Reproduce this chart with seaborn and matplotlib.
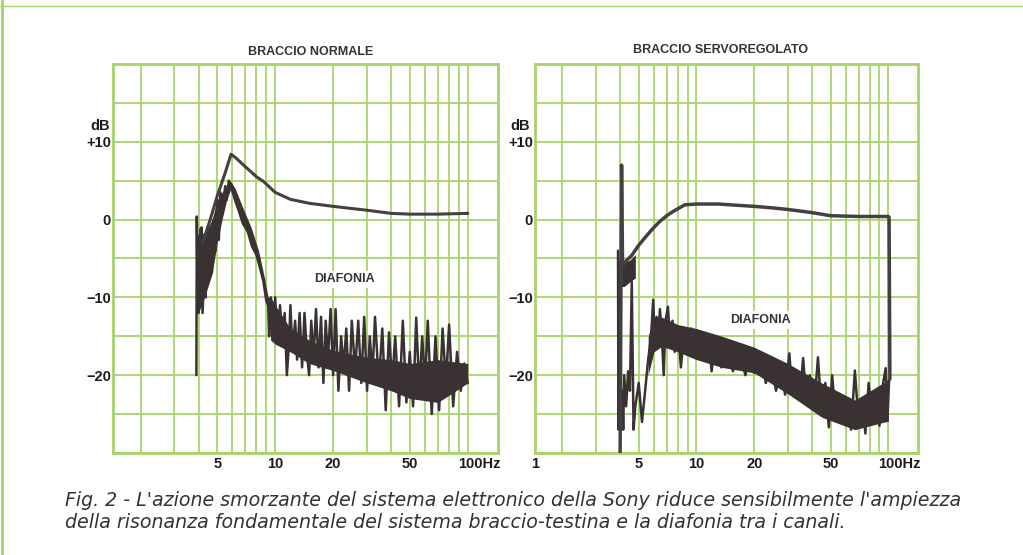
import numpy as np
import pandas as pd
import matplotlib
matplotlib.use('Agg')
import matplotlib.pyplot as plt
import matplotlib.transforms as mtransforms
from matplotlib.lines import Line2D
from matplotlib.ticker import NullFormatter
import seaborn as sns

# --- dati (Hz, dB) ---

# braccio normale: risposta
norm_freq = [4.2, 4.6, 5.0, 5.5, 5.9, 6.2, 7.0, 8.0, 8.7, 10, 12, 15, 20, 30, 40, 50, 70, 100]
norm_db = [-3.0, 0.0, 3.0, 6.0, 8.4, 8.0, 6.8, 5.5, 4.9, 3.5, 2.6, 2.1, 1.7, 1.2, 0.8, 0.7, 0.7, 0.8]

# braccio normale: diafonia (traccia con i picchi)
norm_dia_freq = [3.9, 3.92, 3.95, 4.0, 4.05, 4.1, 4.15, 4.2, 4.3, 4.35, 4.45, 4.5, 4.6, 4.7, 4.8,
                 4.9, 5.0, 5.1, 5.2, 5.35, 5.5, 5.6, 5.75, 5.85, 6.0, 6.2, 6.5, 6.8, 7.2, 7.6,
                 8.0, 8.4, 8.7, 9.0, 9.2, 9.3, 9.5, 9.7, 10, 10.3, 10.6, 10.9, 11.2, 11.5, 11.8,
                 12.0, 12.3, 12.7, 13, 13.4, 13.8, 14.2, 14.6, 15, 15.4, 15.8, 16.3, 16.8, 17.3,
                 17.8, 18.3, 18.8, 19.4, 20, 20.6, 21.3, 22, 22.7, 23.4, 24.2, 25, 26, 27, 28,
                 29, 30, 31, 32, 33, 34.5, 36, 37.5, 39, 40.5, 42, 44, 46, 48, 50, 52, 54, 56,
                 58, 60, 62, 65, 68, 71, 74, 77, 80, 84, 88, 92, 96, 100]
norm_dia_db = [-20, 0.4, -8, -12, -2, -11, -1, -12, -5, -10, -1, -8, -2, -6.8, 0,
               -4, 2.5, -2.6, 3.5, 1.0, 4.3, 2.5, 5.0, 4.5, 3.8, 2.5, 1.0, -0.5, -1.5, -3.5,
               -4.5, -6.5, -8, -10.5, -11, -15, -10, -15.5, -10, -16, -11, -15.5, -12, -20, -16,
               -11, -17, -13, -18, -12, -19, -12, -17, -20, -13, -18, -11.5, -19, -12.5,
               -21, -13, -18, -11.5, -20, -11.5, -22, -15, -19, -14, -22, -13, -19.5, -13, -21,
               -12.5, -22, -15, -20, -12.5, -21, -14, -24.5, -14.5, -21, -15, -24, -13, -23.5, -17, -24, -12.6, -22,
               -15, -21, -13, -25, -15, -24.5, -14, -21, -13.5, -24, -17, -22, -18.5, -21]

# braccio normale: diafonia (fascia centrale)
norm_band_freq = [4.0, 4.3, 4.7, 5.0, 5.3, 5.6, 5.85, 6.2, 6.8, 7.5, 8.2, 8.8, 9.2, 9.5, 10, 12, 15, 20, 30, 40, 50, 70, 100]
norm_band_low = [-12, -10, -7, -3, 0, 2.5, 3.8, 2, -0.5, -3, -6, -9, -12, -15.5, -16, -17, -18.5, -19.4, -21, -22, -23, -23.5, -21]
norm_band_high = [-1, -2, 0, 2.5, 3.5, 4.5, 5.0, 4.0, 1.5, -1, -4, -7.5, -10, -10, -11, -14, -15.5, -16.8, -17.7, -18, -18.5, -18, -18.5]

# braccio servoregolato: risposta
servo_freq = [4.0, 4.07, 4.12, 4.3, 4.6, 5.0, 5.4, 5.9, 6.4, 7.0, 7.5, 8.7, 10, 13, 15, 20, 25, 30, 40, 50, 70, 100, 101, 102]
servo_db = [-30, 7.0, -6.0, -5.3, -4.6, -3.3, -2.3, -1.2, -0.3, 0.5, 1.0, 1.9, 2.0, 2.0, 1.9, 1.7, 1.5, 1.3, 0.9, 0.5, 0.4, 0.4, 0.3, -20.5]

# braccio servoregolato: diafonia (traccia con i picchi)
servo_dia_freq = [3.9, 3.92, 3.96, 4.0, 4.05, 4.1, 4.15, 4.2, 4.3, 4.4, 4.5, 4.6, 4.7, 4.8, 5.0,
                  5.2, 5.4, 5.6, 5.8, 5.95, 6.05, 6.2, 6.3, 6.45, 6.6, 6.75, 6.9, 7.1, 7.3, 7.5,
                  7.7, 8.0, 8.3, 8.6, 9.0, 9.4, 10, 10.5, 11, 11.5, 12, 12.5, 13.5, 14.5, 15.5,
                  16.5, 18, 19, 20, 21.5, 23, 24.5, 26, 27.5, 29, 30.5, 31.5, 33, 34.5, 36, 37.5,
                  39, 41, 43, 45, 47, 49, 51, 53, 55, 58, 61, 64, 67, 70, 73, 76, 79, 82, 86, 90,
                  94, 97, 99, 101]
servo_dia_db = [-4, -27, -8.6, -5.5, -27, -22, -27, -20, -24, -19.5, -22, -8, -27, -24, -21,
                -26, -22, -18, -15, -10.3, -15, -12.5, -16, -11.5, -15, -20, -13, -11.2, -16, -13,
                -17, -14, -19, -14.5, -17, -14, -17.5, -14.5, -18, -15, -19.5, -15.5, -19, -16, -19.5,
                -16.5, -20, -17, -19.7, -17.5, -21, -18.5, -22, -19, -22.5, -17.2, -22, -19.5, -23, -17.8, -23.5,
                -20, -24.5, -17.7, -25, -21, -26.7, -20, -25, -22.5, -26, -23, -27, -19.4, -26, -23, -27.5, -21, -25, -22, -26.5,
                -21, -19.1, -25.9, -20.6]

# braccio servoregolato: diafonia (fascia centrale)
servo_band_freq = [5.6, 6.0, 6.5, 7, 8, 10, 13.6, 20, 30, 45, 67, 100]
servo_band_low = [-20, -17, -16.4, -16.5, -17, -18, -19, -19.7, -22.4, -25.4, -27, -25.9]
servo_band_high = [-15, -12.5, -12.5, -12.8, -13.5, -14, -15, -16.4, -18.5, -21, -23.2, -20.6]

# blocco scuro vicino a 4 Hz
servo_blk_freq = [3.9, 4.2, 4.5, 4.8]
servo_blk_low = [-8.6, -8.6, -8.0, -7.5]
servo_blk_high = [-5.5, -5.5, -5.2, -4.5]

titles = ['BRACCIO NORMALE', 'BRACCIO SERVOREGOLATO']
x_ticks_left = [5, 10, 20, 50, 100]
x_labels_left = ['5', '10', '20', '50', '100Hz']
x_ticks_right = [1.44, 5, 10, 20, 50, 100]
x_labels_right = ['1', '5', '10', '20', '50', '100Hz']
x_grid = [2, 3, 4, 6, 7, 8, 9, 30, 40, 60, 70, 80, 90]
y_ticks = [10, 0, -10, -20]
y_labels = ['+10', '0', '\u221210', '\u221220']
y_grid = [20, 15, 5, -5, -15, -25, -30]

caption = ["Fig. 2 - L'azione smorzante del sistema elettronico della Sony riduce sensibilmente l'ampiezza",
           "della risonanza fondamentale del sistema braccio-testina e la diafonia tra i canali."]

GREEN = '#a8d36c'
INK = '#3a3232'
TXT = '#1c1c1c'

sns.set_style('white')
plt.rcParams['font.family'] = ['Liberation Sans', 'DejaVu Sans']

fig = plt.figure(figsize=(10.23, 5.55), dpi=100)
ax1 = fig.add_axes([0.1105, 0.1838, 0.376, 0.7009])
ax2 = fig.add_axes([0.523, 0.1838, 0.3744, 0.7009])


def prepara(ax, ticks, labels):
    ax.set_xscale('log')
    ax.set_xlim(1.44, 143)
    ax.set_ylim(-30, 20)
    ax.set_xticks(ticks)
    ax.set_xticklabels(labels, fontweight='bold')
    ax.set_xticks(x_grid, minor=True)
    ax.xaxis.set_minor_formatter(NullFormatter())
    ax.set_yticks(y_ticks)
    ax.set_yticklabels(y_labels, fontweight='bold')
    ax.set_yticks(y_grid, minor=True)
    ax.grid(which='both', color=GREEN, linewidth=1.3)
    ax.tick_params(which='both', length=0, labelsize=10.5, colors=TXT)
    ax.tick_params(axis='y', pad=1.5)
    ax.tick_params(axis='x', pad=3)
    for s in ax.spines.values():
        s.set_color(GREEN)
        s.set_linewidth(2)
    ax.set_xlabel('')
    ax.set_ylabel('')
    # "100Hz" spostato come nell'originale
    lab = ax.get_xticklabels()[-1]
    lab.set_horizontalalignment('left')
    lab.set_transform(lab.get_transform() + mtransforms.ScaledTranslation(-0.10, 0, fig.dpi_scale_trans))


def disegna(ax, rf, rdb, df, ddb, bf, blo, bhi, lw_r):
    ax.fill_between(bf, blo, bhi, color=INK, linewidth=0, zorder=3)
    d = pd.DataFrame({'f': df, 'db': ddb})
    sns.lineplot(data=d, x='f', y='db', sort=False, estimator=None, ax=ax,
                 color=INK, linewidth=1.8, zorder=4)
    r = pd.DataFrame({'f': rf, 'db': rdb})
    sns.lineplot(data=r, x='f', y='db', sort=False, estimator=None, ax=ax,
                 color='#444040', linewidth=lw_r, zorder=5)


disegna(ax1, norm_freq, norm_db, norm_dia_freq, norm_dia_db, norm_band_freq, norm_band_low, norm_band_high, 2.2)
disegna(ax2, servo_freq, servo_db, servo_dia_freq, servo_dia_db, servo_band_freq, servo_band_low, servo_band_high, 2.5)
ax2.fill_between(servo_blk_freq, servo_blk_low, servo_blk_high, color=INK, linewidth=0, zorder=3)
prepara(ax1, x_ticks_left, x_labels_left)
prepara(ax2, x_ticks_right, x_labels_right)

# etichette "dB" sopra +10
for ax, dx in [(ax1, -0.008), (ax2, -0.013)]:
    ax.text(dx, 12.0, 'dB', transform=ax.get_yaxis_transform(), ha='right', va='center',
            fontsize=10.5, fontweight='bold', color=TXT)

ax1.text(23, -7.7, 'DIAFONIA', ha='center', va='center', fontsize=9, fontweight='bold',
         color='#333333', zorder=6, bbox=dict(facecolor='white', edgecolor='none', pad=2))
ax2.text(21.5, -12.9, 'DIAFONIA', ha='center', va='center', fontsize=9, fontweight='bold',
         color='#333333', zorder=6, bbox=dict(facecolor='white', edgecolor='none', pad=2))

fig.text(311 / 1023, 1 - 52 / 555, titles[0], ha='center', va='center', fontsize=9,
         fontweight='bold', color='#333333')
fig.text(721 / 1023, 1 - 50 / 555, titles[1], ha='center', va='center', fontsize=9,
         fontweight='bold', color='#333333')

for i, riga in enumerate(caption):
    fig.text(65 / 1023, 1 - (501 + 22 * i) / 555, riga, ha='left', va='center', fontsize=13.7,
             style='italic', color='#333333', family=['DejaVu Sans'])

# bordi verdi della pagina
fig.add_artist(Line2D([0.002, 0.002], [0, 1], color=GREEN, linewidth=2, transform=fig.transFigure))
fig.add_artist(Line2D([0, 1], [0.99, 0.99], color=GREEN, linewidth=1, transform=fig.transFigure))

fig.savefig('out.png', dpi=100)
